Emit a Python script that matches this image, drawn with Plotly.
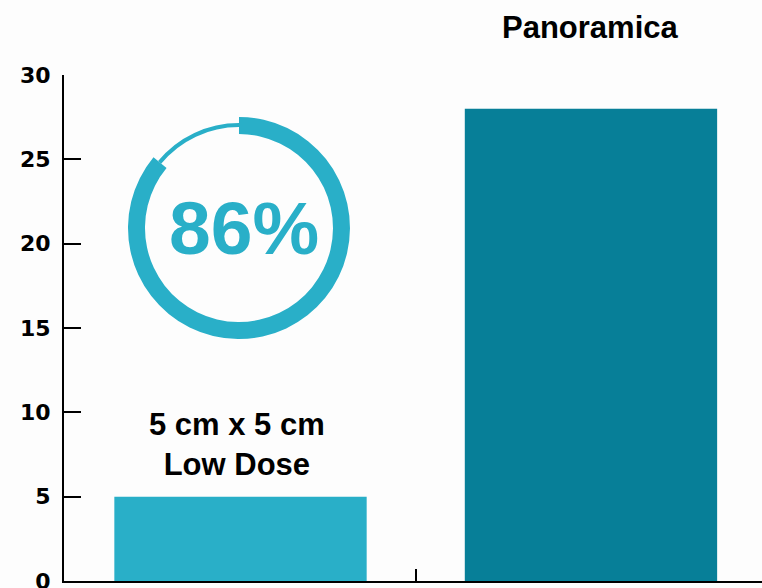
import plotly.graph_objects as go

# ---- data ----
categories = ["5 cm x 5 cm<br>Low Dose", "Panoramica"]
values = [5, 28]
bar_colors = ["#29afc8", "#077f98"]
gauge_pct = 86
y_ticks = [0, 5, 10, 15, 20, 25, 30]

CYAN = "#29afc8"
x_pos = list(range(len(categories)))

fig = go.Figure()

fig.add_trace(go.Bar(
    x=x_pos, y=values, width=0.72,
    marker=dict(color=bar_colors, line=dict(width=0)),
    hoverinfo="skip", showlegend=False,
))

# category labels above bars (paper y, since one sits above the plot area)
label_y = [(581 - 444) / 506, (581 - 27) / 506]
label_dx = [-4, 0]
for xi, (cat, ly, dx) in enumerate(zip(categories, label_y, label_dx)):
    fig.add_annotation(
        x=xi, y=ly, xref="x", yref="paper", text=f"<b>{cat}</b>", xshift=dx,
        showarrow=False, xanchor="center", yanchor="middle",
        font=dict(family="Liberation Sans, Arial, sans-serif", size=31, color="#000000"),
    )

# ring gauge: thick arc for the percentage, thin arc for the remainder
cx, cy = 0.2507, 0.6976
rx, ry = 0.159, 0.2194
fig.add_trace(go.Pie(
    values=[gauge_pct, 100 - gauge_pct], sort=False, direction="clockwise", rotation=0,
    hole=0.847, textinfo="none", hoverinfo="skip", showlegend=False,
    marker=dict(colors=[CYAN, "rgba(0,0,0,0)"], line=dict(width=0)),
    domain=dict(x=[cx - rx, cx + rx], y=[cy - ry, cy + ry]),
))
rx2, ry2 = rx * 105 / 111, ry * 105 / 111
fig.add_trace(go.Pie(
    values=[gauge_pct, 100 - gauge_pct], sort=False, direction="clockwise", rotation=0,
    hole=0.962, textinfo="none", hoverinfo="skip", showlegend=False,
    marker=dict(colors=["rgba(0,0,0,0)", CYAN], line=dict(width=0)),
    domain=dict(x=[cx - rx2, cx + rx2], y=[cy - ry2, cy + ry2]),
))
fig.add_annotation(
    x=cx + 0.007, y=cy, xref="paper", yref="paper", text=f"<b>{gauge_pct}%</b>",
    showarrow=False, xanchor="center", yanchor="middle",
    font=dict(family="Liberation Sans, Arial, sans-serif", size=75, color=CYAN),
)

fig.update_layout(
    width=762, height=588,
    margin=dict(l=64, r=0, t=75, b=7, autoexpand=False),
    paper_bgcolor="#fdfdfd", plot_bgcolor="#fdfdfd",
    xaxis=dict(
        range=[-0.5036, 1.488], showgrid=False, zeroline=False, automargin=False,
        showline=True, linecolor="#000000", linewidth=2,
        tickmode="array", tickvals=[0.5], ticks="inside", ticklen=12,
        tickwidth=2, tickcolor="#000000", showticklabels=False,
    ),
    yaxis=dict(
        range=[0, 30], showgrid=False, zeroline=False, automargin=False,
        showline=True, linecolor="#000000", linewidth=2,
        tickmode="array", tickvals=y_ticks, ticks="inside", ticklen=17,
        tickwidth=2, tickcolor="#000000", ticklabelstandoff=7,
        ticklabeloverflow="allow",
        tickfont=dict(family="DejaVu Sans, sans-serif", size=22, color="#000000", weight="bold"),
    ),
)

fig.write_html("out.html", config={"displayModeBar": False},
               post_script="document.body.style.margin='0';")
